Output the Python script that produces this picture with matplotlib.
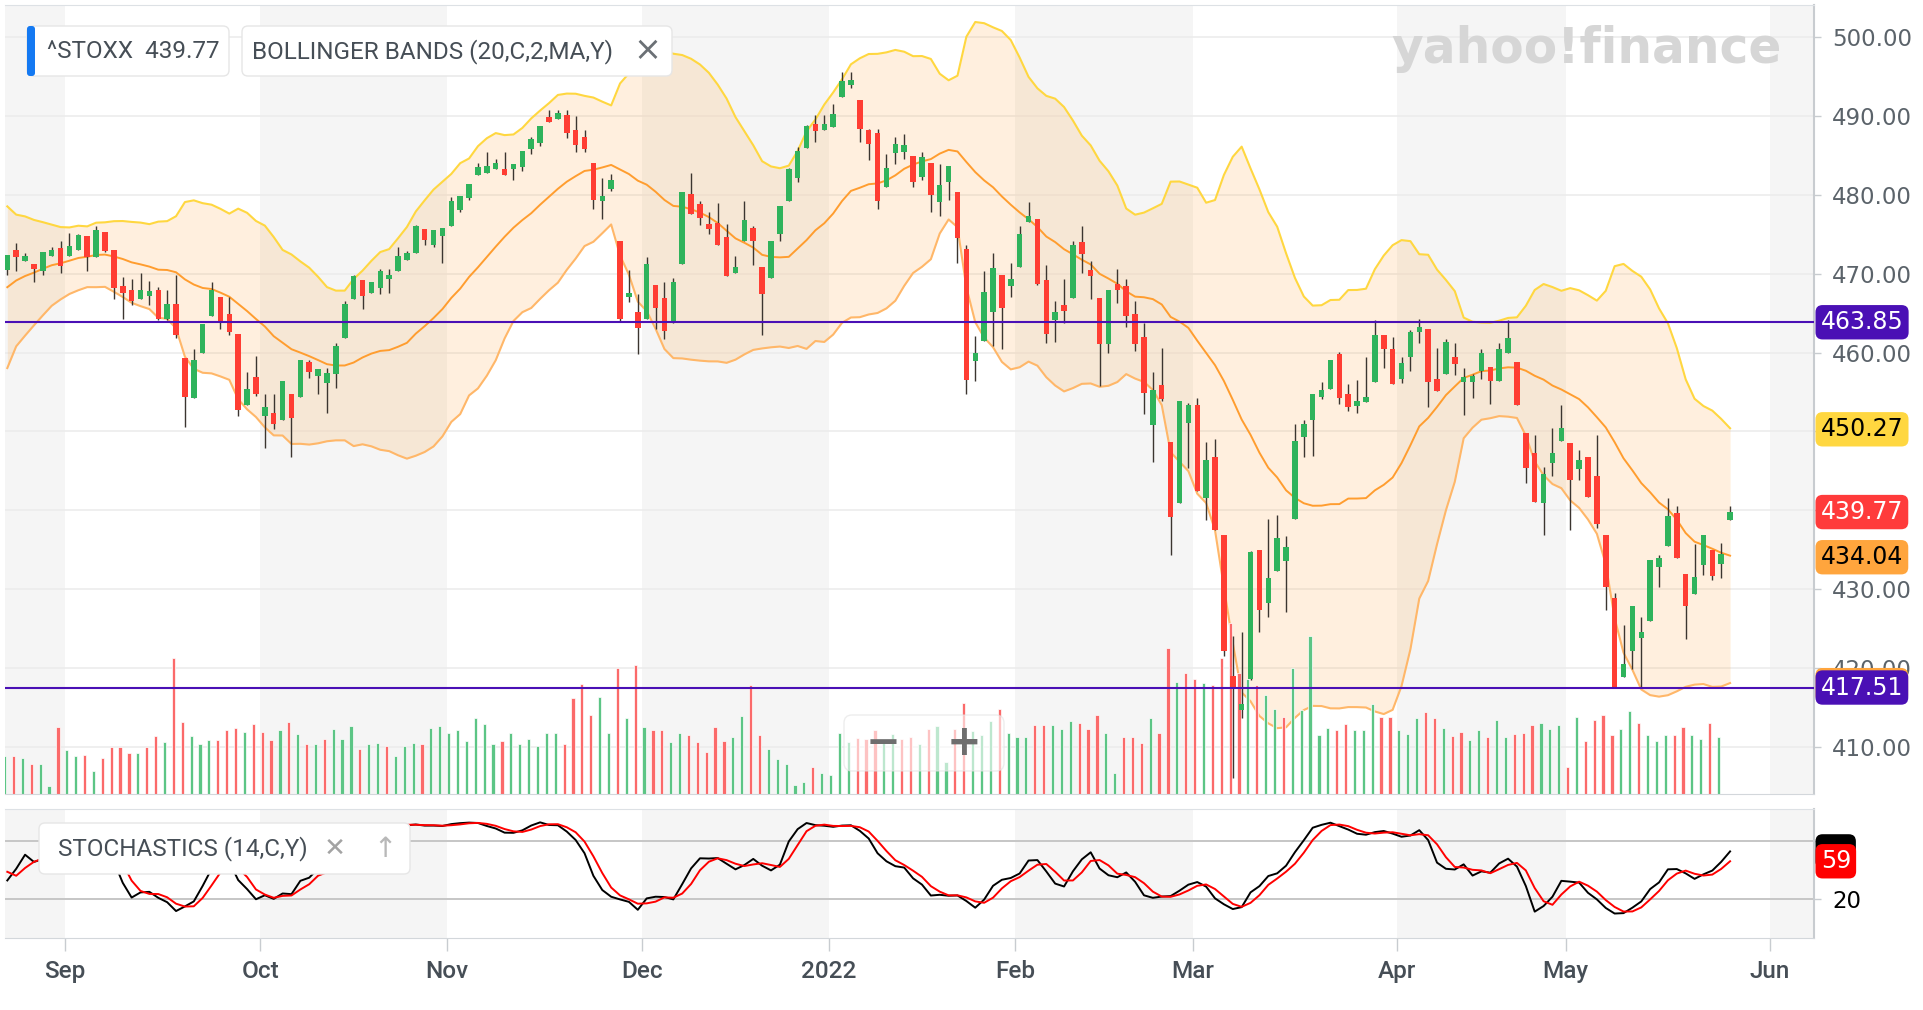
import numpy as np
import pandas as pd
import matplotlib
matplotlib.use("Agg")
import matplotlib.pyplot as plt
import matplotlib.transforms as mtransforms
from matplotlib.patches import FancyBboxPatch

# ^STOXX daily sessions, 23 Aug 2021 - 26 May 2022
open_ = [
    470.5, 473.0, 471.6, 471.2, 470.3, 472.3, 473.3, 472.2, 473.0, 474.8,
    472.1, 475.3, 473.0, 468.4, 467.9, 466.8, 467.2, 467.9, 464.2, 466.2,
    459.3, 454.2, 459.9, 464.6, 467.1, 464.9, 462.3, 453.4, 456.9, 451.9,
    452.4, 451.4, 454.7, 454.4, 458.8, 457.0, 456.1, 457.3, 461.8, 466.8,
    469.2, 467.6, 468.2, 469.3, 470.3, 471.7, 472.6, 475.7, 473.7, 474.8,
    476.1, 478.1, 479.6, 482.5, 482.8, 483.3, 483.3, 483.3, 483.5, 485.8,
    486.6, 489.9, 489.6, 490.1, 488.3, 487.3, 484.0, 479.2, 480.7, 474.2,
    467.0, 465.1, 464.3, 468.6, 466.9, 463.8, 471.3, 480.1, 478.8, 476.3,
    476.5, 474.7, 470.1, 474.1, 475.8, 470.9, 469.5, 475.0, 479.2, 482.1,
    486.0, 489.0, 488.3, 488.6, 492.4, 494.0, 492.1, 488.3, 487.8, 481.0,
    485.3, 485.5, 485.0, 482.3, 484.0, 479.1, 481.7, 480.4, 473.2, 458.9,
    461.5, 465.2, 469.9, 468.5, 470.8, 476.6, 476.9, 469.2, 464.1, 466.0,
    466.9, 474.0, 470.5, 466.9, 461.1, 468.7, 468.4, 464.9, 462.0, 450.8,
    455.9, 448.7, 440.9, 451.1, 453.3, 441.6, 446.7, 436.8, 419.0, 414.7,
    418.6, 435.0, 428.2, 432.3, 433.6, 438.9, 449.3, 451.4, 454.4, 455.4,
    459.8, 454.8, 453.2, 453.7, 456.3, 462.2, 460.5, 456.7, 459.5, 462.6,
    463.0, 456.6, 457.3, 459.5, 456.3, 456.3, 457.7, 458.2, 456.4, 460.0,
    458.8, 449.8, 447.2, 440.9, 446.0, 448.8, 448.5, 445.2, 446.7, 444.4,
    436.8, 428.9, 418.8, 422.1, 423.8, 425.9, 432.8, 435.5, 439.6, 431.9,
    429.4, 433.0, 435.0, 433.2, 438.8,
]
high = [
    472.4, 473.9, 472.6, 471.3, 472.8, 473.4, 474.2, 475.2, 475.0, 474.8,
    476.0, 475.3, 473.0, 469.6, 469.4, 470.1, 469.1, 468.3, 468.0, 469.8,
    459.3, 460.4, 463.6, 468.9, 467.1, 467.0, 462.3, 457.6, 459.6, 454.8,
    454.8, 456.4, 454.7, 459.1, 459.1, 457.9, 458.0, 461.2, 466.5, 469.8,
    469.2, 469.0, 470.6, 470.6, 473.4, 472.9, 476.2, 475.7, 475.5, 475.8,
    479.7, 479.9, 481.4, 484.1, 485.4, 484.6, 485.4, 483.9, 485.6, 487.3,
    488.8, 490.8, 490.8, 490.8, 490.0, 488.2, 484.0, 482.2, 482.6, 474.2,
    470.5, 467.4, 472.1, 468.6, 469.0, 469.5, 480.4, 482.8, 479.2, 477.9,
    479.0, 476.3, 472.3, 479.2, 476.1, 470.9, 474.2, 478.6, 483.4, 486.1,
    488.9, 490.1, 490.1, 491.5, 495.6, 495.6, 492.1, 488.4, 488.4, 485.2,
    487.3, 487.7, 485.0, 485.4, 484.0, 483.9, 483.7, 480.4, 473.6, 462.1,
    470.3, 472.6, 469.9, 471.4, 476.0, 479.1, 476.9, 471.1, 466.5, 469.4,
    474.1, 476.0, 471.6, 466.9, 468.0, 470.6, 469.3, 466.5, 463.7, 457.6,
    460.6, 448.7, 453.8, 453.6, 454.2, 448.6, 449.1, 436.8, 424.0, 424.5,
    434.8, 435.0, 438.9, 439.4, 436.7, 451.0, 451.5, 454.8, 456.3, 459.1,
    460.1, 456.0, 456.5, 459.4, 464.1, 462.2, 462.0, 459.5, 462.9, 464.2,
    463.0, 460.6, 461.7, 461.2, 458.1, 457.3, 460.4, 458.2, 461.2, 464.1,
    458.8, 449.8, 449.6, 445.5, 450.4, 453.4, 448.5, 447.6, 446.8, 449.6,
    436.8, 429.5, 425.5, 427.9, 426.5, 433.7, 434.3, 441.5, 440.5, 431.9,
    435.7, 436.8, 435.0, 435.9, 440.5,
]
low = [
    469.9, 470.3, 471.6, 468.9, 469.9, 472.3, 470.1, 472.2, 473.0, 470.3,
    472.1, 472.8, 466.8, 464.2, 466.1, 466.8, 466.1, 464.1, 464.1, 461.8,
    450.5, 454.2, 459.9, 464.6, 463.0, 462.2, 452.0, 453.4, 454.5, 447.9,
    450.3, 451.4, 446.7, 454.4, 456.8, 454.8, 452.4, 455.5, 461.8, 466.8,
    465.5, 467.6, 467.4, 467.6, 470.3, 471.7, 472.6, 473.7, 473.4, 471.4,
    476.1, 477.8, 479.3, 482.5, 482.8, 483.3, 482.5, 481.9, 483.1, 485.2,
    486.2, 489.2, 489.6, 487.2, 485.5, 485.5, 478.2, 477.0, 480.5, 464.0,
    466.4, 459.8, 464.3, 463.0, 461.7, 463.8, 471.3, 477.6, 476.2, 475.0,
    473.7, 469.7, 470.1, 474.1, 471.1, 462.2, 469.5, 474.2, 479.2, 481.6,
    486.0, 486.7, 488.3, 488.6, 492.4, 493.6, 486.7, 484.4, 478.2, 481.0,
    483.9, 484.6, 481.0, 481.9, 477.8, 477.3, 479.3, 471.4, 454.7, 456.4,
    461.5, 460.8, 460.4, 467.0, 470.8, 476.6, 468.6, 461.2, 461.4, 463.8,
    466.9, 470.1, 466.8, 455.8, 459.9, 466.3, 463.2, 460.2, 452.2, 446.1,
    453.8, 434.3, 440.9, 445.3, 442.5, 438.7, 437.5, 421.5, 406.0, 413.6,
    418.4, 424.5, 426.5, 432.3, 427.1, 438.9, 446.8, 446.9, 454.1, 455.4,
    453.5, 452.6, 452.3, 453.7, 456.3, 458.1, 456.0, 456.2, 457.7, 461.2,
    453.1, 455.1, 457.3, 457.1, 452.1, 454.3, 456.7, 453.5, 456.4, 460.0,
    453.4, 443.5, 441.1, 436.9, 444.3, 448.8, 437.5, 443.9, 441.7, 437.7,
    427.3, 417.5, 418.8, 419.9, 417.6, 425.9, 430.3, 435.5, 434.0, 423.7,
    429.4, 431.8, 431.1, 431.4, 438.7,
]
close = [
    472.4, 472.1, 472.3, 470.6, 472.8, 473.0, 471.0, 473.5, 474.9, 472.1,
    475.6, 472.9, 468.2, 467.6, 466.5, 467.9, 467.8, 464.2, 466.2, 462.2,
    454.4, 459.0, 463.6, 467.9, 463.7, 462.6, 452.7, 455.4, 454.8, 453.1,
    450.9, 456.4, 451.7, 459.0, 457.5, 457.9, 457.4, 460.9, 466.2, 469.7,
    467.2, 468.9, 470.4, 469.9, 472.2, 472.6, 476.1, 474.3, 475.5, 475.8,
    479.2, 479.9, 481.4, 483.5, 483.7, 484.0, 482.5, 483.9, 485.6, 487.1,
    488.8, 489.2, 490.4, 487.9, 486.3, 485.8, 479.4, 479.9, 481.9, 464.3,
    467.6, 463.1, 471.2, 465.6, 462.8, 468.9, 480.4, 477.6, 477.1, 475.7,
    473.7, 469.7, 470.9, 476.8, 474.1, 467.4, 474.2, 478.6, 483.3, 485.6,
    488.7, 488.1, 489.0, 490.3, 494.5, 494.6, 488.4, 486.5, 479.2, 483.4,
    486.5, 486.3, 481.6, 484.8, 480.0, 481.3, 483.7, 474.6, 456.5, 460.0,
    467.7, 470.7, 465.6, 469.3, 475.0, 477.3, 468.7, 462.3, 465.1, 465.3,
    473.6, 472.5, 469.7, 461.1, 467.9, 468.0, 464.6, 461.1, 454.9, 455.3,
    454.1, 439.1, 453.8, 453.3, 442.5, 446.4, 437.5, 422.1, 417.3, 415.4,
    434.7, 427.3, 431.4, 436.5, 435.3, 448.8, 450.9, 454.8, 455.2, 459.0,
    454.3, 453.1, 453.9, 454.4, 462.2, 460.4, 456.0, 458.7, 462.6, 463.3,
    456.3, 455.1, 461.3, 458.5, 456.9, 457.0, 460.0, 456.4, 460.5, 461.8,
    453.4, 445.3, 441.1, 444.6, 447.2, 450.4, 443.9, 446.4, 441.7, 438.3,
    430.3, 417.6, 420.5, 427.9, 424.6, 433.7, 434.0, 439.3, 434.0, 427.9,
    431.5, 436.8, 431.7, 434.5, 439.77,
]
# volume, relative units (bar height in px of the original 789 px tall panel)
volume = [
    38, 38, 36, 30, 30, 8, 67, 44, 38, 39,
    23, 36, 47, 47, 41, 41, 47, 58, 52, 136,
    72, 58, 50, 54, 54, 64, 66, 62, 70, 62,
    54, 64, 72, 60, 50, 50, 55, 65, 55, 68,
    45, 50, 51, 48, 38, 48, 51, 50, 66, 68,
    61, 64, 53, 76, 70, 50, 53, 61, 50, 55,
    48, 61, 61, 50, 96, 110, 79, 97, 61, 126,
    76, 129, 67, 64, 64, 52, 61, 59, 52, 42,
    67, 53, 57, 78, 109, 59, 45, 35, 30, 9,
    12, 27, 21, 19, 61, 52, 56, 55, 64, 52,
    60, 55, 57, 50, 65, 68, 32, 65, 91, 63,
    59, 73, 85, 61, 57, 57, 69, 69, 69, 65,
    73, 71, 65, 79, 61, 21, 57, 57, 51, 76,
    61, 146, 112, 121, 115, 111, 109, 136, 171, 121,
    115, 109, 99, 85, 77, 126, 84, 158, 59, 66,
    64, 70, 64, 64, 90, 77, 77, 64, 60, 76,
    82, 76, 66, 58, 62, 54, 64, 57, 74, 57,
    60, 61, 69, 71, 65, 69, 27, 77, 53, 74,
    79, 59, 65, 83, 71, 59, 53, 59, 59, 67,
    59, 55, 71, 57, 0,
]
# closes of the 19 sessions before the first candle (feed the indicators)
warmup_close = [455.0, 461.0, 462.0, 463.0, 464.0, 466.0, 467.0, 468.0, 469.0, 471.0,
                472.0, 473.0, 474.0, 475.0, 473.0, 473.5, 472.0, 467.0, 468.0]

month_labels = ['Sep', 'Oct', 'Nov', 'Dec', '2022', 'Feb', 'Mar', 'Apr', 'May', 'Jun']
sessions_per_month = [7, 22, 21, 22, 21, 21, 20, 23, 19, 23]   # Aug .. May
drawn_levels = [463.85, 417.51]
upper_last, mid_last, lower_last = 450.27, 434.04, 417.81

plt.rcParams['font.family'] = ['DejaVu Sans']

W, H = 1924, 1010
fig = plt.figure(figsize=(W / 100, H / 100), dpi=100)


def frame(x0, y0, x1, y1):
    return [x0 / W, 1 - y1 / H, (x1 - x0) / W, (y1 - y0) / H]


ax = fig.add_axes(frame(5, 5, 1814, 794))
sx = fig.add_axes(frame(5, 809, 1814, 938), sharex=ax)

n = len(close)
idx = np.arange(n)
o = np.array(open_)
h = np.array(high)
l = np.array(low)
c = np.array(close)
v = np.array(volume, dtype=float)
nw = len(warmup_close)

# Bollinger bands (20, close, 2)
allc = pd.Series(warmup_close + close)
mid = allc.rolling(20).mean().to_numpy()[nw:]
sd = allc.rolling(20).std(ddof=0).to_numpy()[nw:]
upper, lower = mid + 2 * sd, mid - 2 * sd

# slow stochastics (14, 3, 3)
allh = pd.Series(warmup_close + high)
alll = pd.Series(warmup_close + low)
hh, ll = allh.rolling(14).max(), alll.rolling(14).min()
fast_k = 100 * (allc - ll) / (hh - ll)
slow_k = fast_k.rolling(3).mean()
slow_d = slow_k.rolling(3).mean()
k_line = slow_k.to_numpy()[nw:]
d_line = slow_d.to_numpy()[nw:]

xmin, xmax = -0.26, 203.45
bounds = np.cumsum(sessions_per_month) - 0.5
edges = [xmin] + list(bounds) + [xmax]
for a in (ax, sx):
    for i in range(0, len(edges) - 1, 2):
        a.axvspan(edges[i], edges[i + 1], color='#f5f5f5', lw=0, zorder=0)
    a.set_facecolor('white')

# price panel
for yv in range(410, 501, 10):
    ax.axhline(yv, color='#ebebeb', lw=1.1, zorder=0.5)

ax.fill_between(idx, lower, upper, color='#ffa53d', alpha=0.17, lw=0, zorder=1)
ax.plot(idx, upper, color='#ffd740', lw=1.5, zorder=2)
ax.plot(idx, mid, color='#ff9d2f', lw=1.4, zorder=2)
ax.plot(idx, lower, color='#ffb769', lw=1.5, zorder=2)

prev = np.r_[warmup_close[-1], c[:-1]]
vcol = np.where(c >= prev, '#5cc585', '#fb6a6a')
vtrans = mtransforms.blended_transform_factory(ax.transData, ax.transAxes)
ax.bar(idx - 0.3, v / 789.0, width=0.36, bottom=0, color=vcol, edgecolor='white',
       linewidth=0.5, transform=vtrans, zorder=2.5)

up = c >= o
ax.vlines(idx, l, h, color='#3b3530', lw=1.0, zorder=4)
ax.bar(idx, np.maximum(np.abs(c - o), 0.15), bottom=np.minimum(o, c), width=0.62,
       color=np.where(up, '#2fb35c', '#ff3d33'), lw=0, zorder=5)

for lv in drawn_levels:
    ax.axhline(lv, color='#4a10b5', lw=1.5, zorder=6)

ax.set_xlim(xmin, xmax)
ax.set_ylim(404.0, 504.1)
ax.yaxis.tick_right()
price_ticks = list(range(410, 501, 10))
ax.set_yticks(price_ticks)
# 440 and 450 sit fully under the value tags
ax.set_yticklabels(['' if t in (440, 450) else '%.2f' % t for t in price_ticks])
ax.tick_params(axis='y', length=5, width=1, color='#c8ccd0', labelsize=16.5,
               labelcolor='#5b636a', pad=8)
ax.tick_params(axis='x', bottom=False, labelbottom=False)

# stochastics panel
for yv in (20, 80):
    sx.axhline(yv, color='#c6c6c6', lw=1.4, zorder=0.5)
sx.plot(idx, k_line, color='black', lw=1.4, zorder=3)
sx.plot(idx, d_line, color='#ff0000', lw=1.4, zorder=3)
sx.set_ylim(-21, 113.5)
sx.yaxis.tick_right()
sx.set_yticks([20, 80])
sx.set_yticklabels(['20', ''])
sx.tick_params(axis='y', length=5, width=1, color='#c8ccd0', labelsize=16.5,
               labelcolor='black', pad=8)
sx.set_xticks(bounds)
sx.set_xticklabels(month_labels)
sx.tick_params(axis='x', length=9, width=1, color='#c8ccd0', labelsize=17.5,
               labelcolor='#464e56', pad=7)
for lbl in sx.get_xticklabels():
    lbl.set_fontfamily('Roboto')
    lbl.set_fontweight('medium')

for a in (ax, sx):
    a.spines['left'].set_visible(False)
    a.spines['top'].set_color('#dde1e5')
    a.spines['bottom'].set_color('#d3d7db')
    a.spines['right'].set_color('#c8ccd0')
    a.spines['right'].set_linewidth(1.5)


def tag(axis, y, text, face, fg, z):
    tr = mtransforms.blended_transform_factory(axis.transAxes, axis.transData)
    axis.text(1.0037, y, text, transform=tr, ha='left', va='center', fontsize=17,
              color=fg, clip_on=False, zorder=z,
              bbox=dict(boxstyle='round,pad=0.22,rounding_size=0.3', fc=face, ec='none'))


tag(ax, drawn_levels[0], '%.2f' % drawn_levels[0], '#4a10b5', 'white', 10)
tag(ax, upper_last, '%.2f' % upper_last, '#ffd740', 'black', 10)
tag(ax, c[-1], '%.2f' % c[-1], '#ff3b3b', 'white', 10)
tag(ax, mid_last, '%.2f' % mid_last, '#ffa53d', 'black', 10)
tag(ax, lower_last, '%.2f' % lower_last, '#ffa53d', 'black', 10)
tag(ax, drawn_levels[1], '%.2f' % drawn_levels[1], '#4a10b5', 'white', 11)
tag(sx, k_line[-1], '%d' % round(k_line[-1]), 'black', 'black', 10)
tag(sx, d_line[-1], '%d' % round(d_line[-1]), '#ff0000', 'white', 11)

# overlay: legend boxes, watermark, zoom control
ov = fig.add_axes([0, 0, 1, 1])
ov.set_xlim(0, W)
ov.set_ylim(H, 0)
ov.axis('off')


def box(x, y, w, hgt, fc='white', ec='#e6e6e6', alpha=1.0, r=6):
    ov.add_patch(FancyBboxPatch((x, y), w, hgt, boxstyle='round,pad=0,rounding_size=%d' % r,
                                fc=fc, ec=ec, lw=1, alpha=alpha))


box(27, 26, 202, 50)
box(27, 26, 8, 50, fc='#1479f2', ec='none', r=3)
ov.text(47, 52, '^STOXX  439.77', fontsize=17.5, color='#464e56', va='center', family='Roboto')
box(242, 26, 430, 50)
ov.text(252, 52, 'BOLLINGER BANDS (20,C,2,MA,Y)', fontsize=17.5, color='#464e56',
        va='center', family='Roboto')
ov.text(647, 51, '\u00d7', fontsize=24, color='#6b7075', va='center', ha='center')

ov.text(1587, 49, 'yahoo!finance', fontsize=35, weight='heavy', color='#d6d6d6',
        va='center', ha='center')

box(844, 715, 160, 56, alpha=0.6, ec='#e2e2e2', r=8)
ov.text(883, 743, '\u2212', fontsize=30, weight='bold', color='#6e6e6e', va='center', ha='center')
ov.text(964, 743, '+', fontsize=30, weight='bold', color='#6e6e6e', va='center', ha='center')

box(39, 823, 371, 51)
ov.text(58, 849, 'STOCHASTICS (14,C,Y)', fontsize=17.5, color='#464e56', va='center',
        family='Roboto')
ov.text(335, 849, '\u2715', fontsize=19, color='#a3a3a3', va='center', ha='center', weight='bold')
ov.text(385, 849, '\u2191', fontsize=20, color='#b8b8b8', va='center', ha='center')

fig.savefig('out.png', dpi=100)
